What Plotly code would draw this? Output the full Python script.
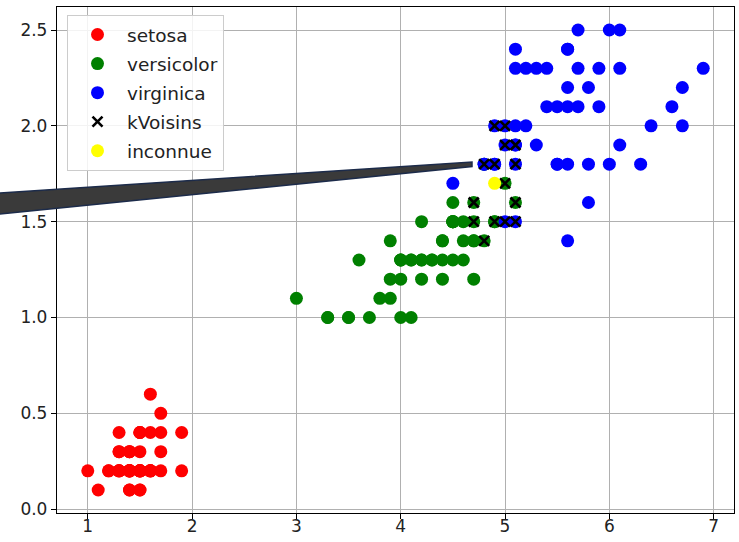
import plotly.graph_objects as go

# Iris petal length / width per species
setosa_len = [1.4,1.4,1.3,1.5,1.4,1.7,1.4,1.5,1.4,1.5,1.5,1.6,1.4,1.1,1.2,1.5,1.3,1.4,1.7,1.5,
              1.7,1.5,1.0,1.7,1.9,1.6,1.6,1.5,1.4,1.6,1.6,1.5,1.5,1.4,1.5,1.2,1.3,1.4,1.3,1.5,
              1.3,1.3,1.3,1.6,1.9,1.4,1.6,1.4,1.5,1.4]
setosa_wid = [0.2,0.2,0.2,0.2,0.2,0.4,0.3,0.2,0.2,0.1,0.2,0.2,0.1,0.1,0.2,0.4,0.4,0.3,0.3,0.3,
              0.2,0.4,0.2,0.5,0.2,0.2,0.4,0.2,0.2,0.2,0.2,0.4,0.1,0.2,0.2,0.2,0.2,0.1,0.2,0.2,
              0.3,0.3,0.2,0.6,0.4,0.3,0.2,0.2,0.2,0.2]
versicolor_len = [4.7,4.5,4.9,4.0,4.6,4.5,4.7,3.3,4.6,3.9,3.5,4.2,4.0,4.7,3.6,4.4,4.5,4.1,4.5,3.9,
                  4.8,4.0,4.9,4.7,4.3,4.4,4.8,5.0,4.5,3.5,3.8,3.7,3.9,5.1,4.5,4.5,4.7,4.4,4.1,4.0,
                  4.4,4.6,4.0,3.3,4.2,4.2,4.2,4.3,3.0,4.1]
versicolor_wid = [1.4,1.5,1.5,1.3,1.5,1.3,1.6,1.0,1.3,1.4,1.0,1.5,1.0,1.4,1.3,1.4,1.5,1.0,1.5,1.1,
                  1.8,1.3,1.5,1.2,1.3,1.4,1.4,1.7,1.5,1.0,1.1,1.0,1.2,1.6,1.5,1.6,1.5,1.3,1.3,1.3,
                  1.2,1.4,1.2,1.0,1.3,1.2,1.3,1.3,1.1,1.3]
virginica_len = [6.0,5.1,5.9,5.6,5.8,6.6,4.5,6.3,5.8,6.1,5.1,5.3,5.5,5.0,5.1,5.3,5.5,6.7,6.9,5.0,
                 5.7,4.9,6.7,4.9,5.7,6.0,4.8,4.9,5.6,5.8,6.1,6.4,5.6,5.1,5.6,6.1,5.6,5.5,4.8,5.4,
                 5.6,5.1,5.1,5.9,5.7,5.2,5.0,5.2,5.4,5.1]
virginica_wid = [2.5,1.9,2.1,1.8,2.2,2.1,1.7,1.8,1.8,2.5,2.0,1.9,2.1,2.0,2.4,2.3,1.8,2.2,2.3,1.5,
                 2.3,2.0,2.0,1.8,2.1,1.8,1.8,1.8,2.1,1.6,1.9,2.0,2.2,1.5,1.4,2.3,2.4,1.8,1.8,2.1,
                 2.4,2.3,1.9,2.3,2.5,2.3,1.9,2.0,2.3,1.8]
kvoisins_len = [4.9,5.0,5.0,5.1,4.8,4.9,5.1,5.0,4.7,5.1,4.7,4.9,5.0,5.1,4.8]
kvoisins_wid = [2.0,2.0,1.9,1.9,1.8,1.8,1.8,1.7,1.6,1.6,1.5,1.5,1.5,1.5,1.4]
inconnue_len = [4.9]
inconnue_wid = [1.7]

x_ticks = [1, 2, 3, 4, 5, 6, 7]
y_ticks = [0.0, 0.5, 1.0, 1.5, 2.0, 2.5]

W, H = 739, 542
L, R, T, B = 57, 5, 7, 29
PW, PH = W - L - R, H - T - B

def px(xp):
    return (xp - L) / PW

def py(yp):
    return (H - B - yp) / PH

fig = go.Figure()
fig.add_trace(go.Scatter(x=setosa_len, y=setosa_wid, mode="markers", name="setosa",
                         legendgroup="g1",
                         marker=dict(color="red", size=13, line=dict(width=0))))
fig.add_trace(go.Scatter(x=versicolor_len, y=versicolor_wid, mode="markers", name="versicolor",
                         legendgroup="g2",
                         marker=dict(color="green", size=13, line=dict(width=0))))
fig.add_trace(go.Scatter(x=virginica_len, y=virginica_wid, mode="markers", name="virginica",
                         legendgroup="g3",
                         marker=dict(color="blue", size=13, line=dict(width=0))))
fig.add_trace(go.Scatter(x=kvoisins_len, y=kvoisins_wid, mode="markers", name="kVoisins",
                         legendgroup="g4",
                         marker=dict(symbol="x-thin", color="black", size=10,
                                     line=dict(color="black", width=2.6))))
fig.add_trace(go.Scatter(x=inconnue_len, y=inconnue_wid, mode="markers", name="inconnue",
                         legendgroup="g5",
                         marker=dict(color="yellow", size=13, line=dict(width=0))))

# wedge-shaped annotation arrow
path = (f"M {px(-5)} {py(193.3)} L {px(472)} {py(162)} "
        f"L {px(472)} {py(166.5)} L {px(-5)} {py(214.5)} Z")
fig.add_shape(type="path", path=path, xref="paper", yref="paper",
              fillcolor="#3a3a3a", line=dict(color="#1c2b4a", width=1.5), layer="above")

axis_common = dict(showgrid=True, gridcolor="#b0b0b0", gridwidth=1.2,
                   showline=True, linecolor="black", linewidth=1.3, mirror=True,
                   ticks="outside", ticklen=5, tickcolor="black", tickwidth=1.2,
                   zeroline=False, automargin=False,
                   tickfont=dict(family="DejaVu Sans", size=17, color="#222"))
fig.update_xaxes(range=[0.705, 7.195], tickvals=x_ticks, ticktext=[str(v) for v in x_ticks],
                 ticklabelstandoff=-8, **axis_common)
fig.update_yaxes(range=[-0.02, 2.62], tickvals=y_ticks, ticktext=[f"{v:.1f}" for v in y_ticks],
                 **axis_common)

fig.update_layout(
    width=W, height=H,
    margin=dict(l=L, r=R, t=T, b=B, autoexpand=False),
    plot_bgcolor="white", paper_bgcolor="white",
    showlegend=True,
    legend=dict(x=px(67), y=py(15), xanchor="left", yanchor="top",
                bgcolor="rgba(255,255,255,0.85)", bordercolor="#cccccc", borderwidth=1,
                font=dict(family="DejaVu Sans", size=18.5, color="#222"),
                itemwidth=49, tracegroupgap=2, traceorder="grouped"),
)

fig.write_html("out.html", config={"displayModeBar": False},
               post_script="document.body.style.margin='0px';")
